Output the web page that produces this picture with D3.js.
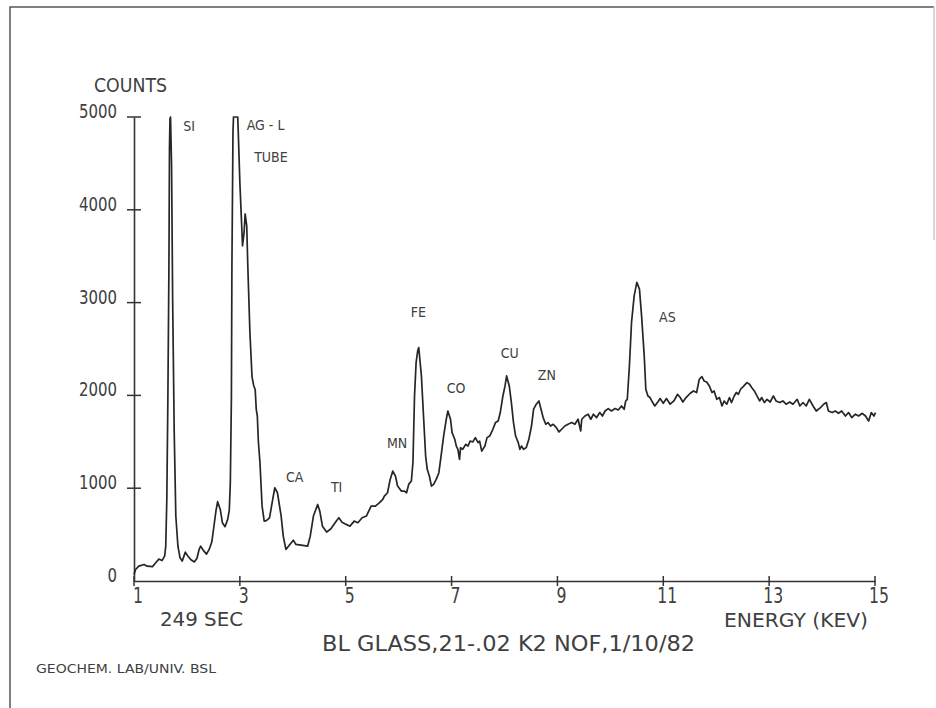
<!DOCTYPE html>
<html>
<head>
<meta charset="utf-8">
<script src="https://cdn.jsdelivr.net/npm/d3@7"></script>
<style>
    body { margin: 0; background: #fff; }
    svg text { font-family: "Liberation Sans Narrow", "DejaVu Sans Condensed", "Liberation Sans", sans-serif; fill: #404040; }
</style>
</head>
<body>
<div id="chart-area"></div>
<script>

// spectrum (energy in keV, counts)
const energy = [
    1.00, 1.03, 1.09, 1.19, 1.25, 1.35, 1.41, 1.47, 1.53, 1.58, 1.60, 1.62, 1.64, 1.66, 1.67, 1.68, 1.69, 1.71, 1.73, 1.76,
    1.79, 1.83, 1.87, 1.91, 1.97, 2.01, 2.07, 2.14, 2.19, 2.23, 2.26, 2.31, 2.37, 2.42, 2.47, 2.51, 2.55, 2.58, 2.63, 2.67,
    2.72, 2.77, 2.80, 2.82, 2.84, 2.85, 2.87, 2.88, 2.96, 2.97, 3.00, 3.04, 3.05, 3.08, 3.10, 3.13, 3.15, 3.19, 3.23, 3.26,
    3.29, 3.31, 3.33, 3.35, 3.38, 3.42, 3.46, 3.50, 3.56, 3.61, 3.66, 3.71, 3.78, 3.82, 3.87, 3.93, 4.01, 4.06, 4.12, 4.19,
    4.28, 4.33, 4.39, 4.47, 4.51, 4.56, 4.64, 4.72, 4.82, 4.87, 4.93, 5.01, 5.08, 5.16, 5.23, 5.31, 5.39, 5.48, 5.56, 5.64,
    5.70, 5.73, 5.79, 5.84, 5.89, 5.94, 5.98, 6.05, 6.11, 6.15, 6.19, 6.24, 6.27, 6.30, 6.33, 6.36, 6.38, 6.43, 6.47, 6.51,
    6.54, 6.58, 6.62, 6.66, 6.71, 6.76, 6.81, 6.85, 6.90, 6.93, 6.98, 7.01, 7.06, 7.09, 7.12, 7.15, 7.17, 7.21, 7.27, 7.31,
    7.35, 7.40, 7.45, 7.50, 7.53, 7.57, 7.63, 7.67, 7.72, 7.78, 7.83, 7.88, 7.92, 7.97, 8.01, 8.04, 8.09, 8.13, 8.17, 8.21,
    8.26, 8.29, 8.32, 8.36, 8.41, 8.46, 8.51, 8.55, 8.60, 8.65, 8.69, 8.73, 8.78, 8.82, 8.87, 8.92, 8.98, 9.03, 9.08, 9.14,
    9.20, 9.27, 9.33, 9.39, 9.44, 9.46, 9.52, 9.58, 9.63, 9.68, 9.74, 9.80, 9.85, 9.90, 9.96, 10.02, 10.09, 10.15, 10.21, 10.26,
    10.29, 10.32, 10.36, 10.40, 10.45, 10.50, 10.55, 10.59, 10.64, 10.67, 10.71, 10.75, 10.80, 10.84, 10.91, 10.94, 11.00, 11.06, 11.13, 11.20,
    11.27, 11.32, 11.37, 11.43, 11.51, 11.57, 11.63, 11.68, 11.73, 11.77, 11.82, 11.87, 11.92, 11.96, 12.01, 12.06, 12.11, 12.15, 12.20, 12.25,
    12.29, 12.34, 12.38, 12.42, 12.46, 12.51, 12.58, 12.63, 12.67, 12.72, 12.77, 12.82, 12.86, 12.91, 12.96, 13.02, 13.08, 13.13, 13.20, 13.26,
    13.32, 13.39, 13.45, 13.53, 13.58, 13.64, 13.70, 13.76, 13.83, 13.89, 13.97, 14.03, 14.08, 14.12, 14.19, 14.25, 14.31, 14.37, 14.44, 14.50,
    14.56, 14.63, 14.69, 14.76, 14.82, 14.88, 14.93, 14.98, 15.01
];

const counts = [
    70, 124, 160, 178, 160, 155, 196, 236, 220, 270, 375, 880, 1960, 3400, 4660, 4980, 5000, 4475, 3040, 1600,
    700, 375, 250, 214, 311, 275, 232, 205, 245, 340, 375, 330, 290, 340, 420, 590, 760, 855, 771, 628,
    585, 664, 760, 1060, 1960, 3400, 4836, 5000, 5000, 4836, 4296, 3757, 3612, 3757, 3955, 3828, 3397, 2678, 2200, 2110,
    2060, 1850, 1778, 1500, 1275, 807, 645, 650, 680, 844, 1005, 951, 700, 483, 340, 383, 440, 394, 390, 383,
    375, 483, 700, 825, 753, 591, 527, 563, 645, 682, 634, 610, 591, 645, 628, 682, 700, 807, 807, 844,
    879, 915, 951, 1095, 1185, 1131, 1023, 969, 969, 951, 1041, 1077, 1275, 1994, 2354, 2480, 2516, 2210, 1778, 1347,
    1203, 1131, 1023, 1041, 1095, 1167, 1383, 1562, 1743, 1832, 1743, 1599, 1527, 1454, 1419, 1311, 1437, 1419, 1473, 1454,
    1508, 1498, 1545, 1491, 1508, 1400, 1454, 1545, 1562, 1635, 1707, 1724, 1815, 1994, 2102, 2210, 2102, 1923, 1707, 1562,
    1491, 1419, 1454, 1419, 1437, 1527, 1670, 1851, 1905, 1940, 1851, 1761, 1689, 1707, 1670, 1689, 1653, 1606, 1635, 1670,
    1689, 1707, 1689, 1743, 1617, 1743, 1778, 1797, 1743, 1797, 1761, 1815, 1778, 1832, 1858, 1832, 1858, 1843, 1886, 1851,
    1940, 1958, 2318, 2786, 3073, 3218, 3145, 2857, 2426, 2066, 1994, 1977, 1923, 1886, 1940, 1966, 1915, 1966, 1905, 1940,
    2012, 1977, 1929, 1977, 2023, 2048, 2031, 2174, 2203, 2156, 2145, 2102, 2031, 2048, 1958, 1977, 1886, 1940, 1905, 1977,
    1923, 1994, 2031, 2012, 2066, 2095, 2138, 2120, 2085, 2048, 1994, 1940, 1977, 1923, 1958, 1929, 1994, 1940, 1923, 1940,
    1905, 1929, 1905, 1958, 1886, 1923, 1886, 1958, 1886, 1832, 1869, 1905, 1923, 1832, 1815, 1832, 1807, 1832, 1778, 1815,
    1761, 1797, 1778, 1807, 1778, 1724, 1815, 1778, 1815
];

// peak annotations: text, and where the label sits (keV, counts)
const peakNames  = ["SI", "AG - L", "TUBE", "CA", "TI", "MN", "FE", "CO", "CU", "ZN", "AS"];
const peakKev    = [1.93, 3.13, 3.27, 3.87, 4.72, 5.78, 6.23, 6.91, 7.93, 8.63, 10.92];
const peakCounts = [4850, 4860, 4510, 1067, 959, 1433, 2845, 2026, 2403, 2166, 2791];

const xTicks = [1, 3, 5, 7, 9, 11, 13, 15];
const yTicks = [0, 1000, 2000, 3000, 4000, 5000];


class SpectrumChart {

    constructor(_parentElement) {
        this.parentElement = _parentElement;
        this.data = energy.map((e, i) => ({ kev: e, counts: counts[i] }));
        this.initVis();
    }

    initVis() {
        let vis = this;

        vis.width = 936;
        vis.height = 708;

        vis.svg = d3.select("#" + vis.parentElement).append("svg")
            .attr("width", vis.width)
            .attr("height", vis.height);

        // page frame (scanned sheet edge)
        vis.svg.append("path")
            .attr("d", "M10,708 L10,7 L934,7")
            .attr("fill", "none")
            .attr("stroke", "#555")
            .attr("stroke-width", 1.5);
        vis.svg.append("line")
            .attr("x1", 934).attr("x2", 934).attr("y1", 7).attr("y2", 240)
            .attr("stroke", "#ccc")
            .attr("stroke-width", 1.5);

        vis.x = d3.scaleLinear().domain([1, 15]).range([134, 875]);
        vis.y = d3.scaleLinear().domain([0, 5000]).range([581, 117]);

        vis.updateVis();
    }

    updateVis() {
        let vis = this;

        // axes with crossing ticks, like the plotter drew them
        vis.xAxis = d3.axisBottom(vis.x).tickValues(xTicks).tickSize(0).tickFormat("");
        vis.yAxis = d3.axisLeft(vis.y).tickValues(yTicks).tickSize(0).tickFormat("");

        let gx = vis.svg.append("g").attr("class", "x-axis axis")
            .attr("transform", "translate(0," + vis.y(0) + ")")
            .call(vis.xAxis);
        gx.select(".domain").attr("stroke", "#333").attr("stroke-width", 1.6);

        let gy = vis.svg.append("g").attr("class", "y-axis axis")
            .attr("transform", "translate(" + vis.x(1) + ",0)")
            .call(vis.yAxis);
        gy.select(".domain").attr("stroke", "#333").attr("stroke-width", 1.6);

        vis.svg.selectAll(".xtick")
            .data(xTicks)
            .enter().append("line")
            .attr("class", "xtick")
            .attr("x1", d => vis.x(d)).attr("x2", d => vis.x(d))
            .attr("y1", vis.y(0) - 5).attr("y2", vis.y(0) + 5)
            .attr("stroke", "#333").attr("stroke-width", 1.5);

        vis.svg.selectAll(".ytick")
            .data(yTicks.filter(d => d > 0))
            .enter().append("line")
            .attr("class", "ytick")
            .attr("x1", vis.x(1) - 7).attr("x2", vis.x(1) + 7)
            .attr("y1", d => vis.y(d)).attr("y2", d => vis.y(d))
            .attr("stroke", "#333").attr("stroke-width", 1.5);

        vis.svg.selectAll(".xlabel")
            .data(xTicks)
            .enter().append("text")
            .attr("class", "xlabel")
            .attr("x", d => vis.x(d) + 4)
            .attr("y", 603)
            .attr("text-anchor", "middle")
            .attr("font-size", 22)
            .attr("textLength", d => String(d).length * 10)
            .attr("lengthAdjust", "spacingAndGlyphs")
            .text(d => d);

        // plotter digits are narrow: squeeze them a little
        vis.svg.selectAll(".ylabel")
            .data(yTicks)
            .enter().append("text")
            .attr("class", "ylabel")
            .attr("x", 117)
            .attr("y", d => vis.y(d) + 1)
            .attr("text-anchor", "end")
            .attr("font-size", 19)
            .attr("textLength", d => String(d).length * 9.5)
            .attr("lengthAdjust", "spacingAndGlyphs")
            .text(d => d);

        // the spectrum
        vis.line = d3.line()
            .x(d => vis.x(d.kev))
            .y(d => vis.y(d.counts));

        vis.svg.append("path")
            .datum(vis.data)
            .attr("fill", "none")
            .attr("stroke", "#262626")
            .attr("stroke-width", 1.7)
            .attr("stroke-linejoin", "round")
            .attr("d", vis.line);

        // element labels
        vis.svg.selectAll(".peak-label")
            .data(peakNames)
            .enter().append("text")
            .attr("class", "peak-label")
            .attr("x", (d, i) => vis.x(peakKev[i]))
            .attr("y", (d, i) => vis.y(peakCounts[i]))
            .attr("font-size", 14)
            .text(d => d);

        // titles and notes
        let notes = [
            { t: "COUNTS", x: 94, y: 92, size: 20, len: 73 },
            { t: "249 SEC", x: 160, y: 626, size: 20, len: 83 },
            { t: "ENERGY (KEV)", x: 724, y: 627, size: 20, len: 144 },
            { t: "BL GLASS,21-.02 K2 NOF,1/10/82", x: 322, y: 651, size: 21, len: 373 },
            { t: "GEOCHEM. LAB/UNIV. BSL", x: 36, y: 673, size: 13, len: 180 }
        ];
        vis.svg.selectAll(".note")
            .data(notes)
            .enter().append("text")
            .attr("class", "note")
            .attr("x", d => d.x)
            .attr("y", d => d.y)
            .attr("font-size", d => d.size)
            .attr("textLength", d => d.len)
            .attr("lengthAdjust", "spacingAndGlyphs")
            .text(d => d.t);
    }
}

new SpectrumChart("chart-area");

</script>
</body>
</html>
